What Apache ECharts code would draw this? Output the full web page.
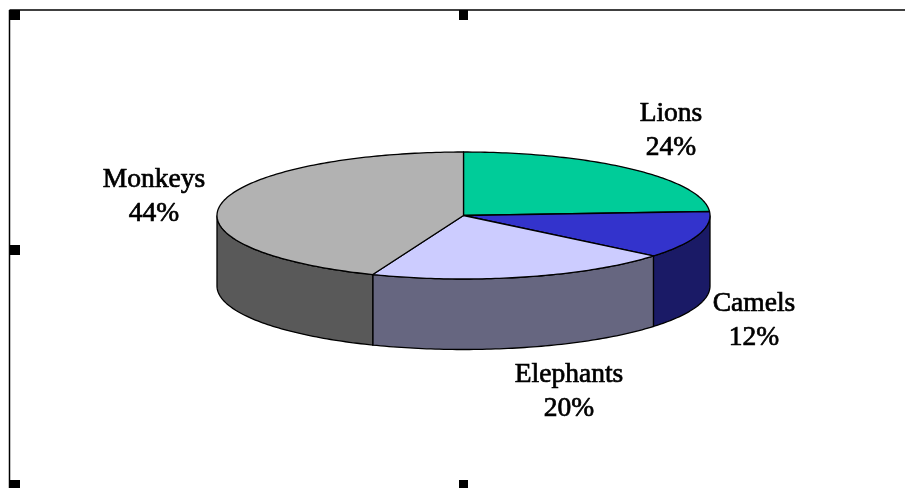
<!DOCTYPE html>
<html>
<head>
<meta charset="utf-8">
<style>html,body{margin:0;padding:0;background:#fff}#c{width:905px;height:488px}</style>
<script src="https://cdn.jsdelivr.net/npm/echarts@6/dist/echarts.min.js"></script>
</head>
<body>
<div id="c"></div>
<script>
const categories = ['Lions', 'Camels', 'Elephants', 'Monkeys'];
const shares = [24, 12, 20, 44];
const topColors = ['#00CC99', '#3333CC', '#CCCCFF', '#B2B2B2'];
const sideColors = ['#006650', '#1A1A66', '#666680', '#595959'];

// Layout of the drawing
const PIE = { cx: 463.5, cy: 215.5, rx: 246.5, ry: 63.5, depth: 70.5 };
const LABEL_CENTERS = { Lions: [671, 131], Camels: [754, 321], Elephants: [569, 392], Monkeys: [154, 197] };
const FONT = '27.5px "Liberation Serif", serif';
const STEP = Math.PI / 180;

const total = shares.reduce((a, b) => a + b, 0);
const startOf = i => shares.slice(0, i).reduce((a, b) => a + b, 0) / total * 2 * Math.PI;
const rim = (a, dy) => [PIE.cx + PIE.rx * Math.sin(a), PIE.cy - PIE.ry * Math.cos(a) + (dy || 0)];
function arc(a0, a1, dy) {
  const pts = [];
  for (let a = a0; a < a1; a += STEP) pts.push(rim(a, dy));
  pts.push(rim(a1, dy));
  return pts;
}

function renderItem(params) {
  const i = params.dataIndex;
  const a0 = startOf(i), a1 = startOf(i + 1);
  const children = [];
  // The wall shows only along the front half of the ellipse.
  const s0 = Math.max(a0, Math.PI / 2), s1 = Math.min(a1, Math.PI * 1.5);
  if (s1 > s0) {
    children.push({
      type: 'polygon',
      shape: { points: arc(s0, s1, 0).concat(arc(s0, s1, PIE.depth).reverse()) },
      style: { fill: sideColors[i], stroke: '#000', lineWidth: 1.3 }
    });
  }
  children.push({
    type: 'polygon',
    shape: { points: [[PIE.cx, PIE.cy]].concat(arc(a0, a1, 0)) },
    style: { fill: topColors[i], stroke: '#000', lineWidth: 1.3, lineJoin: 'round' }
  });
  const c = LABEL_CENTERS[categories[i]];
  children.push({
    type: 'text',
    style: {
      x: c[0], y: c[1],
      text: categories[i] + '\n' + shares[i] + '%',
      font: FONT, fill: '#000', stroke: '#000', lineWidth: 0.7,
      align: 'center', verticalAlign: 'middle', lineHeight: 34
    }
  });
  return { type: 'group', children };
}

// Selection frame and its handles
const frameLine = (x1, y1, x2, y2) => ({ type: 'line', shape: { x1, y1, x2, y2 }, style: { stroke: '#000', lineWidth: 1.5 } });
const handle = (x, y, w, h) => ({ type: 'rect', shape: { x, y, width: w, height: h }, style: { fill: '#000' } });

const chart = echarts.init(document.getElementById('c'), null, { renderer: 'canvas' });
chart.setOption({
  animation: false,
  backgroundColor: '#fff',
  graphic: [
    frameLine(9.5, 10, 905, 10),
    frameLine(9.5, 10, 9.5, 488),
    handle(10, 10, 10, 10),
    handle(459, 10, 9, 10),
    handle(10, 245, 10, 10),
    handle(10, 480, 10, 8),
    handle(459, 480, 9, 8)
  ],
  series: [{
    type: 'custom',
    coordinateSystem: 'none',
    renderItem,
    data: shares.map((v, i) => ({ name: categories[i], value: v }))
  }]
});
</script>
</body>
</html>
